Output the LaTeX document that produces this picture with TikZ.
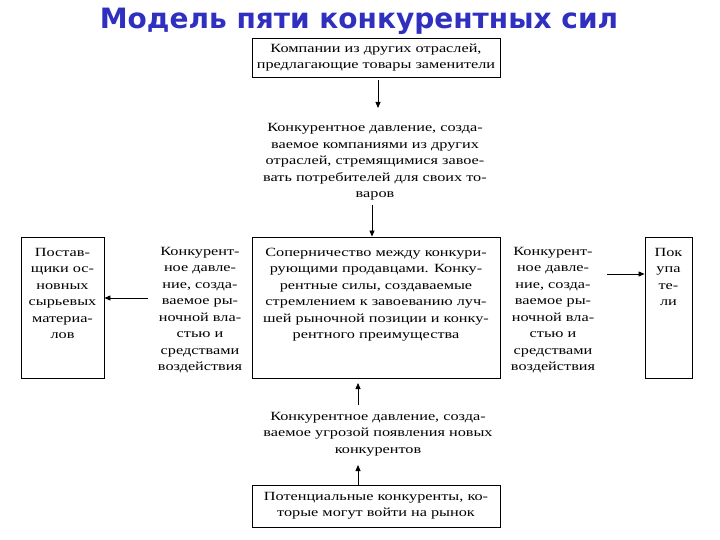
\documentclass[tikz,border=0pt]{standalone}
\usepackage{fontspec}
\setmainfont[FakeStretch=1.3]{Liberation Serif}
\newfontfamily\titlefont{DejaVu Sans}
\usetikzlibrary{positioning,arrows.meta}
\definecolor{titleblue}{RGB}{48,48,192}
\begin{document}
\begin{tikzpicture}[x=1pt,y=-1pt,
  box/.style={draw, line width=0.9pt, inner sep=0pt},
  txt/.style={align=center, inner sep=0pt, font=\fontsize{12.5}{16.5}\selectfont},
  arr/.style={draw, line width=0.8pt, -{Triangle[length=6pt,width=5pt]}}]
\useasboundingbox[fill=white] (0,0) rectangle (720,540);
\node[font=\titlefont\bfseries\fontsize{28}{32}\selectfont, text=titleblue] (title) at (359,21) {Модель пяти конкурентных сил};

\node[box, minimum width=248pt, minimum height=39pt] (subst) at (376,57.5) {};
\node[txt] (substt) at (subst) {Компании из других отраслей,\\предлагающие товары заменители};
\node[txt] (press1) at (375,162) {Конкурентное давление, созда-\\ваемое компаниями из других\\отраслей, стремящимися завое-\\вать потребителей для своих то-\\варов};

\node[box, minimum width=248pt, minimum height=141pt] (rival) at (376,307.5) {};
\node[txt, anchor=north] (rivalt) at (376,248) {Соперничество между конкури-\\рующими продавцами. Конку-\\рентные силы, создаваемые\\стремлением к завоеванию луч-\\шей рыночной позиции и конку-\\рентного преимущества};

\node[box, minimum width=83pt, minimum height=141pt] (supp) at (62.5,307.5) {};
\node[txt, anchor=north] (suppt) at (62.5,248) {Постав-\\щики ос-\\новных\\сырьевых\\материа-\\лов};
\node[txt] (press2) at (200,310) {Конкурент-\\ное давле-\\ние, созда-\\ваемое ры-\\ночной вла-\\стью и\\средствами\\воздействия};

\node[box, minimum width=47pt, minimum height=141pt] (buy) at (668.5,307.5) {};
\node[txt, anchor=north] (buyt) at (668.5,248) {Пок\\упа\\те-\\ли};
\node[txt] (press3) at (553,310) {Конкурент-\\ное давле-\\ние, созда-\\ваемое ры-\\ночной вла-\\стью и\\средствами\\воздействия};

\node[txt] (press4) at (378,434) {Конкурентное давление, созда-\\ваемое угрозой появления новых\\конкурентов};
\node[box, minimum width=248pt, minimum height=42pt] (entr) at (376,506) {};
\node[txt] (entrt) at (entr) {Потенциальные конкуренты, ко-\\торые могут войти на рынок};

\path[arr] (378,80) -- (378,108);
\path[arr] (372,205) -- (rival.north -| 372,0);
\path[arr] (358,405) -- (358,383);
\path[arr] (entr.north -| 358,0) -- (358,465);
\path[arr] (148,298) -- (supp.east |- 0,298);
\path[arr] (607,274) -- (buy.west |- 0,274);
\end{tikzpicture}
\end{document}
